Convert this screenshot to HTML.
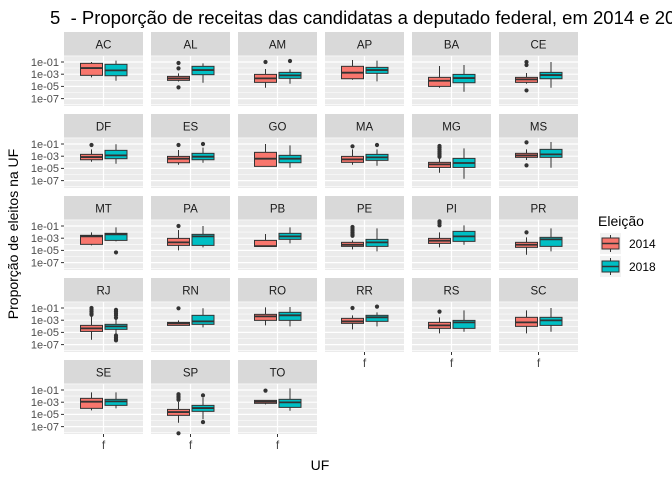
<!DOCTYPE html>
<html><head><meta charset="utf-8"><style>
body{margin:0;background:#fff;width:672px;height:480px;overflow:hidden;font-family:"Liberation Sans",sans-serif}
</style></head><body>
<svg id="chart" width="672" height="480" xmlns="http://www.w3.org/2000/svg" style="font-family:'Liberation Sans',sans-serif">
<text x="50" y="24" font-size="18.5" fill="#000" style="white-space:pre" xml:space="preserve">5  - Proporção de receitas das candidatas a deputado federal, em 2014 e 2018</text>
<text transform="translate(18,234) rotate(-90)" text-anchor="middle" font-size="14" fill="#000">Proporção de eleitos na UF</text>
<text x="320" y="470" text-anchor="middle" font-size="14" fill="#000">UF</text>
<g id="panels"></g>
<g>
<text x="598" y="226" font-size="14" fill="#000">Eleição</text>
<g>
<rect x="600" y="233" width="21" height="21" fill="#f2f2f2"/><line x1="610.5" y1="235" x2="610.5" y2="252" stroke="#333" stroke-width="1"/>
<rect x="602" y="238" width="17" height="11" fill="#F8766D" stroke="#333" stroke-width="1"/><line x1="602" y1="243.5" x2="619" y2="243.5" stroke="#333" stroke-width="1.5"/>
<text x="629" y="248" font-size="12" fill="#000">2014</text></g>
<g>
<rect x="600" y="256" width="21" height="21" fill="#f2f2f2"/><line x1="610.5" y1="258" x2="610.5" y2="275" stroke="#333" stroke-width="1"/>
<rect x="602" y="261" width="17" height="11" fill="#00BFC4" stroke="#333" stroke-width="1"/><line x1="602" y1="266.5" x2="619" y2="266.5" stroke="#333" stroke-width="1.5"/>
<text x="629" y="271" font-size="12" fill="#000">2018</text></g>
</g>
</svg>
<script>
// log10 stats: [lowWhisker, q1, median, q3, highWhisker]
const ufs = ["AC","AL","AM","AP","BA","CE","DF","ES","GO","MA","MG","MS","MT","PA","PB","PE","PI","PR","RJ","RN","RO","RR","RS","SC","SE","SP","TO"];
const stats2014 = [
[-3.52,-3.19,-1.99,-1.22,-1.0],[-4.2,-4.01,-3.68,-3.36,-2.86],[-5.22,-4.34,-3.68,-3.03,-2.15],[-3.9,-3.74,-2.75,-1.71,-0.67],[-5.22,-5.0,-4.07,-3.52,-1.66],[-4.56,-4.34,-3.85,-3.52,-2.81],
[-3.9,-3.58,-3.14,-2.7,-1.88],[-4.4,-4.07,-3.41,-3.03,-1.99],[-4.67,-4.67,-3.41,-2.37,-1.0],[-4.4,-4.01,-3.52,-3.03,-1.88],[-5.71,-4.84,-4.34,-4.01,-3.36],[-3.63,-3.19,-2.86,-2.53,-1.88],
[-4.18,-4.01,-2.7,-2.53,-2.04],[-5.0,-4.18,-3.68,-3.03,-1.66],[-4.34,-4.34,-4.3,-3.36,-2.32],[-4.84,-4.34,-4.07,-3.68,-3.36],[-4.5,-3.85,-3.41,-3.03,-2.04],[-5.71,-4.5,-4.07,-3.68,-2.86],
[-6.2,-4.84,-4.34,-3.85,-2.37],[-3.85,-3.85,-3.52,-3.36,-3.03],[-3.85,-3.03,-2.37,-2.04,-0.89],[-4.5,-3.52,-3.19,-2.7,-2.2],[-5.16,-4.34,-3.85,-3.36,-2.53],[-5.16,-4.01,-3.36,-2.53,-1.38],
[-4.34,-4.01,-2.92,-2.37,-1.38],[-6.37,-5.16,-4.62,-4.18,-2.97],[-3.36,-3.19,-2.92,-2.7,-2.7]];
const stats2018 = [
[-4.07,-3.25,-2.37,-1.38,-0.78],[-4.4,-3.08,-2.32,-1.71,-1.22],[-4.56,-3.68,-3.19,-2.7,-2.2],[-4.18,-2.86,-2.32,-1.88,-0.78],[-5.88,-4.4,-3.63,-3.03,-1.49],[-5.22,-3.74,-3.14,-2.7,-1.0],
[-4.23,-3.41,-2.86,-2.04,-1.05],[-4.07,-3.58,-3.08,-2.53,-1.6],[-4.89,-4.07,-3.41,-2.86,-1.22],[-4.56,-3.68,-3.19,-2.7,-1.88],[-6.7,-4.84,-4.12,-3.36,-1.71],[-4.89,-3.19,-2.7,-1.88,-0.67],
[-3.52,-3.36,-2.37,-2.2,-1.22],[-4.5,-4.18,-2.7,-2.37,-1.0],[-3.85,-3.19,-2.7,-2.2,-1.22],[-5.16,-4.34,-3.68,-3.19,-1.38],[-4.07,-3.52,-2.7,-1.88,-0.89],[-5.16,-4.34,-3.19,-2.86,-1.38],
[-5.3,-4.5,-4.01,-3.68,-2.86],[-4.18,-3.68,-3.19,-2.2,-1.05],[-4.01,-3.03,-2.2,-1.71,-0.84],[-4.01,-3.19,-2.53,-2.2,-1.71],[-4.89,-4.34,-3.36,-3.03,-1.38],[-4.89,-3.85,-3.03,-2.53,-1.0],
[-4.01,-3.52,-2.86,-2.53,-1.38],[-5.8,-4.5,-3.96,-3.52,-2.3],[-4.4,-3.85,-3.03,-2.53,-0.73]];
const outliers2014 = [[],[-1.16,-2.04,-5.16],[-1.0],[],[],[-1.0,-1.5,-5.66],
[-1.16],[-1.16],[],[-1.38],[-1.33,-1.6,-1.9,-2.2,-2.5,-2.8,-3.1],[-0.73,-4.5],
[],[-1.0],[],[-1.16,-1.5,-1.8,-2.1,-2.4,-2.6],[-0.23,-0.5,-0.89],[-2.04],
[-1.0,-1.3,-1.6,-1.9,-2.1],[-1.05],[],[-1.0],[-1.6],[],
[],[-1.7,-2.0,-2.3,-2.6,-8.1],[-1.1]];
const outliers2018 = [[],[],[-0.84],[],[],[],
[],[-1.0],[],[-1.16],[],[],
[-5.33],[],[],[],[],[],
[-1.3,-1.6,-1.9,-2.2,-2.6,-5.5,-5.8,-6.1,-6.3],[],[],[-0.78],[],[],
[],[-1.88,-6.26],[]];
const yTicks = [-1,-3,-5,-7];
const yTickLabels = ["1e-01","1e-03","1e-05","1e-07"];

const NS="http://www.w3.org/2000/svg";
const g=document.getElementById('panels');
function mk(tag,attrs,parent){const e=document.createElementNS(NS,tag);for(const k in attrs)e.setAttribute(k,attrs[k]);(parent||g).appendChild(e);return e;}
const colX=[64,151,238,325,412,499], rowY=[32,114,196,278,360], PW=79, SH=24, PH=50;
function yScale(top,v){return top+6+(-1-v)*6.1;}
ufs.forEach((uf,i)=>{
  const c=i%6,r=Math.floor(i/6),x0=colX[c],sy=rowY[r],top=sy+SH;
  const pg=mk('g',{});
  
  
  const strip=mk('rect',{x:x0,y:sy,width:PW,height:SH,fill:'#d9d9d9'},pg);
  
  
  const st=mk('text',{x:x0+PW/2,y:sy+16.5,'text-anchor':'middle','font-size':'11.5',fill:'#1a1a1a'},pg);st.textContent=uf;
  
  
  mk('rect',{x:x0,y:top,width:PW,height:PH,fill:'#ebebeb'},pg);
  for(let v=0;v>=-8;v-=2){const y=yScale(top,v);if(y<=top+PH)mk('line',{x1:x0,x2:x0+PW,y1:y,y2:y,stroke:'#fff','stroke-width':0.6},pg);}
  yTicks.forEach(v=>{const y=yScale(top,v);mk('line',{x1:x0,x2:x0+PW,y1:y,y2:y,stroke:'#fff','stroke-width':1.2},pg);});
  const cx=x0+PW/2;
  mk('line',{x1:cx,x2:cx,y1:top,y2:top+PH,stroke:'#fff','stroke-width':1.2},pg);
  [[stats2014[i],outliers2014[i],'#F8766D',cx-12],[stats2018[i],outliers2018[i],'#00BFC4',cx+12.5]].forEach(([s,o,col,bx],k)=>{
    const bg=mk('g',{},pg);
    
    
    mk('line',{x1:bx,x2:bx,y1:yScale(top,s[4]),y2:yScale(top,s[0]),stroke:'#333','stroke-width':1},bg);
    const yq3=yScale(top,s[3]),yq1=yScale(top,s[1]);
    mk('rect',{x:bx-11,y:yq3,width:22,height:Math.max(yq1-yq3,0.5),fill:col,stroke:'#333','stroke-width':1},bg);
    const ym=yScale(top,s[2]);
    mk('line',{x1:bx-11,x2:bx+11,y1:ym,y2:ym,stroke:'#333','stroke-width':1.8},bg);
    o.forEach(v=>mk('circle',{cx:bx,cy:yScale(top,v),r:2.1,fill:'#333'},bg));
  });
  if(c===0){yTicks.forEach((v,j)=>{const y=yScale(top,v);mk('line',{x1:x0-3,x2:x0,y1:y,y2:y,stroke:'#333','stroke-width':1},pg);
    const t=mk('text',{x:x0-5,y:y+3.8,'text-anchor':'end','font-size':'11',fill:'#4d4d4d'},pg);t.textContent=yTickLabels[j];});}
  const bottomRow = r===4 || (r===3 && c>=3);
  if(bottomRow){mk('line',{x1:cx,x2:cx,y1:top+PH,y2:top+PH+3,stroke:'#333','stroke-width':1},pg);
    const t=mk('text',{x:cx,y:top+PH+15,'text-anchor':'middle','font-size':'12',fill:'#4d4d4d'},pg);t.textContent='f';
    
    }
});
</script>
</body></html>
